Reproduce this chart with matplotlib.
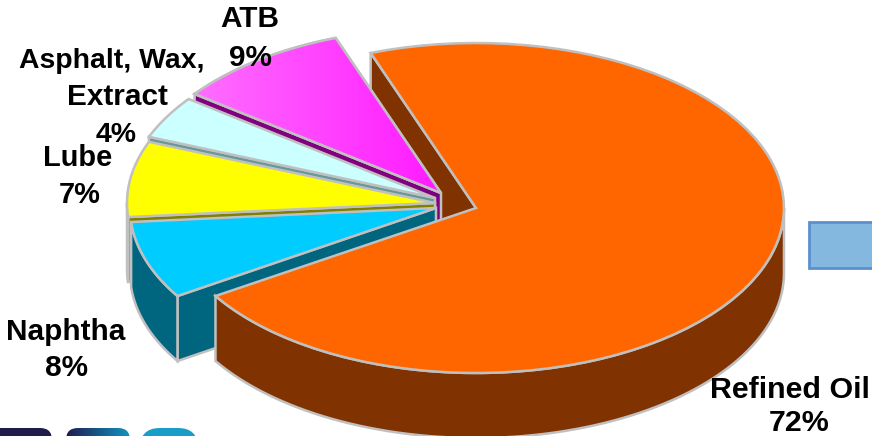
import numpy as np
import matplotlib
matplotlib.use("Agg")
import matplotlib.pyplot as plt
from matplotlib.patches import Polygon, Rectangle, FancyBboxPatch

plt.rcParams['font.family'] = ['Liberation Sans', 'DejaVu Sans']

# clockwise from the start angle
names = ["Refined Oil", "Naphtha", "Lube", "Asphalt, Wax,\nExtract", "ATB"]
values = [71.6, 7.6, 7.4, 4.2, 9.2]

top_colors = ["#FF6600", "#00CCFF", "#FFFF00", "#CCFFFF", "#FF40FF"]
wall_colors = ["#803300", "#006680", "#808000", "#669999", "#800080"]
apex = [(476, 208), (438, 208), (435, 203), (435, 198), (441, 193)]
tips = [(476, 208), (436, 208), (435, 203), (435, 198), (441, 193)]
label_pos = [(790, 390, 799, 423), (66, 332, 66, 368), (78, 158, 80, 195),
             (114, 61, 116, 135), (250, 19, 250, 58)]
label_size = [21.9, 21.4, 20.9, 20.4, 21.4]

start_angle = 110
rx, ry = 308, 165
depth = 65
edge = "#C0C0C0"

fig = plt.figure(figsize=(8.72, 4.36), dpi=100)
ax = fig.add_axes([0, 0, 1, 1])
ax.set_xlim(0, 872)
ax.set_ylim(436, 0)
ax.axis("off")


def rim(c, a1, a2):
    t = np.radians(np.linspace(a1, a2, 80))
    return np.column_stack([c[0] + rx * np.cos(t), c[1] - ry * np.sin(t)])


def down(pts):
    return pts[::-1] + [0, depth]


def shape(pts, color, z):
    p = Polygon(pts, closed=True, facecolor=color, edgecolor=edge, lw=1.8,
                joinstyle="miter", zorder=z)
    ax.add_patch(p)
    return p


def gradient(patch, colors, box, z):
    cmap = matplotlib.colors.LinearSegmentedColormap.from_list("g", colors)
    im = ax.imshow(np.linspace(0, 1, 256).reshape(1, -1), cmap=cmap, extent=box,
                   aspect="auto", zorder=z)
    im.set_clip_path(patch)


# slice angles, going clockwise
ends = start_angle - np.cumsum(values) * 3.6
starts = np.r_[start_angle, ends[:-1]]

# back wall of the big slice
c = apex[0]
a = np.array([[c[0], c[1]], rim(c, start_angle, start_angle)[0]])
shape(np.vstack([a, down(a)]), wall_colors[0], 1)

# small slices from back to front
z = 2
for i in [4, 3, 2, 1]:
    c = apex[i]
    hi = starts[i] + 360 if starts[i] < 0 else starts[i]
    lo = ends[i] + 360 if ends[i] < 0 else ends[i]
    # hi is the clockwise start, lo the clockwise end
    e = np.array([tips[i], rim(c, hi, hi)[0]])
    shape(np.vstack([e, down(e)]), wall_colors[i], z)
    if hi > 180:
        w = rim(c, max(lo, 180), hi)
        shape(np.vstack([w, down(w)]), wall_colors[i], z + 1)
    top = np.vstack([tips[i], rim(c, hi, lo)])
    p = shape(top, top_colors[i], z + 2)
    if i == 4:
        gradient(p, ["#FF6EFF", "#FF1AFF"], (195, 441, 193, 38), z + 2.5)
        shape(top, "none", z + 2.6)
    z += 3

# big slice in front
c = apex[0]
w = rim(c, 0, ends[0])
shape(np.vstack([w, down(w)]), wall_colors[0], 20)
shape(np.vstack([[c[0], c[1]], rim(c, starts[0], ends[0])]), top_colors[0], 21)

# labels
for n, v, (x1, y1, x2, y2), fs in zip(names, values, label_pos, label_size):
    parts = n.split("\n")
    if len(parts) == 2:
        ax.text(112, y1, parts[0], ha="center", va="center", fontsize=fs,
                fontweight="bold", zorder=30)
        ax.text(117, y1 + 36, parts[1], ha="center", va="center", fontsize=21.4,
                fontweight="bold", zorder=30)
    else:
        ax.text(x1, y1, n, ha="center", va="center", fontsize=fs,
                fontweight="bold", zorder=30)
    ax.text(x2, y2, f"{v:.0f}%", ha="center", va="center", fontsize=fs,
            fontweight="bold", zorder=30)

# box at the right edge
ax.add_patch(Rectangle((809, 222), 80, 46, facecolor="#85B8DE", edgecolor="#5B8FD0",
                       lw=2, zorder=5))

# bits of a logo along the bottom
logo = FancyBboxPatch((-30, 440), 70, 40, boxstyle="round,pad=12", facecolor="#1F1B4D",
                      edgecolor="none", zorder=5)
ax.add_patch(logo)
logo2 = FancyBboxPatch((78, 440), 40, 40, boxstyle="round,pad=12", facecolor="none",
                       edgecolor="none", zorder=5)
ax.add_patch(logo2)
gradient(logo2, ["#1F1B4D", "#1296C4"], (66, 130, 436, 428), 5)
logo3 = FancyBboxPatch((160, 448), 18, 40, boxstyle="round,pad=20", facecolor="#1A9CC8",
                       edgecolor="none", zorder=5)
ax.add_patch(logo3)

ax.set_xlim(0, 872)
ax.set_ylim(436, 0)
fig.savefig("out.png", dpi=100, facecolor="white")
